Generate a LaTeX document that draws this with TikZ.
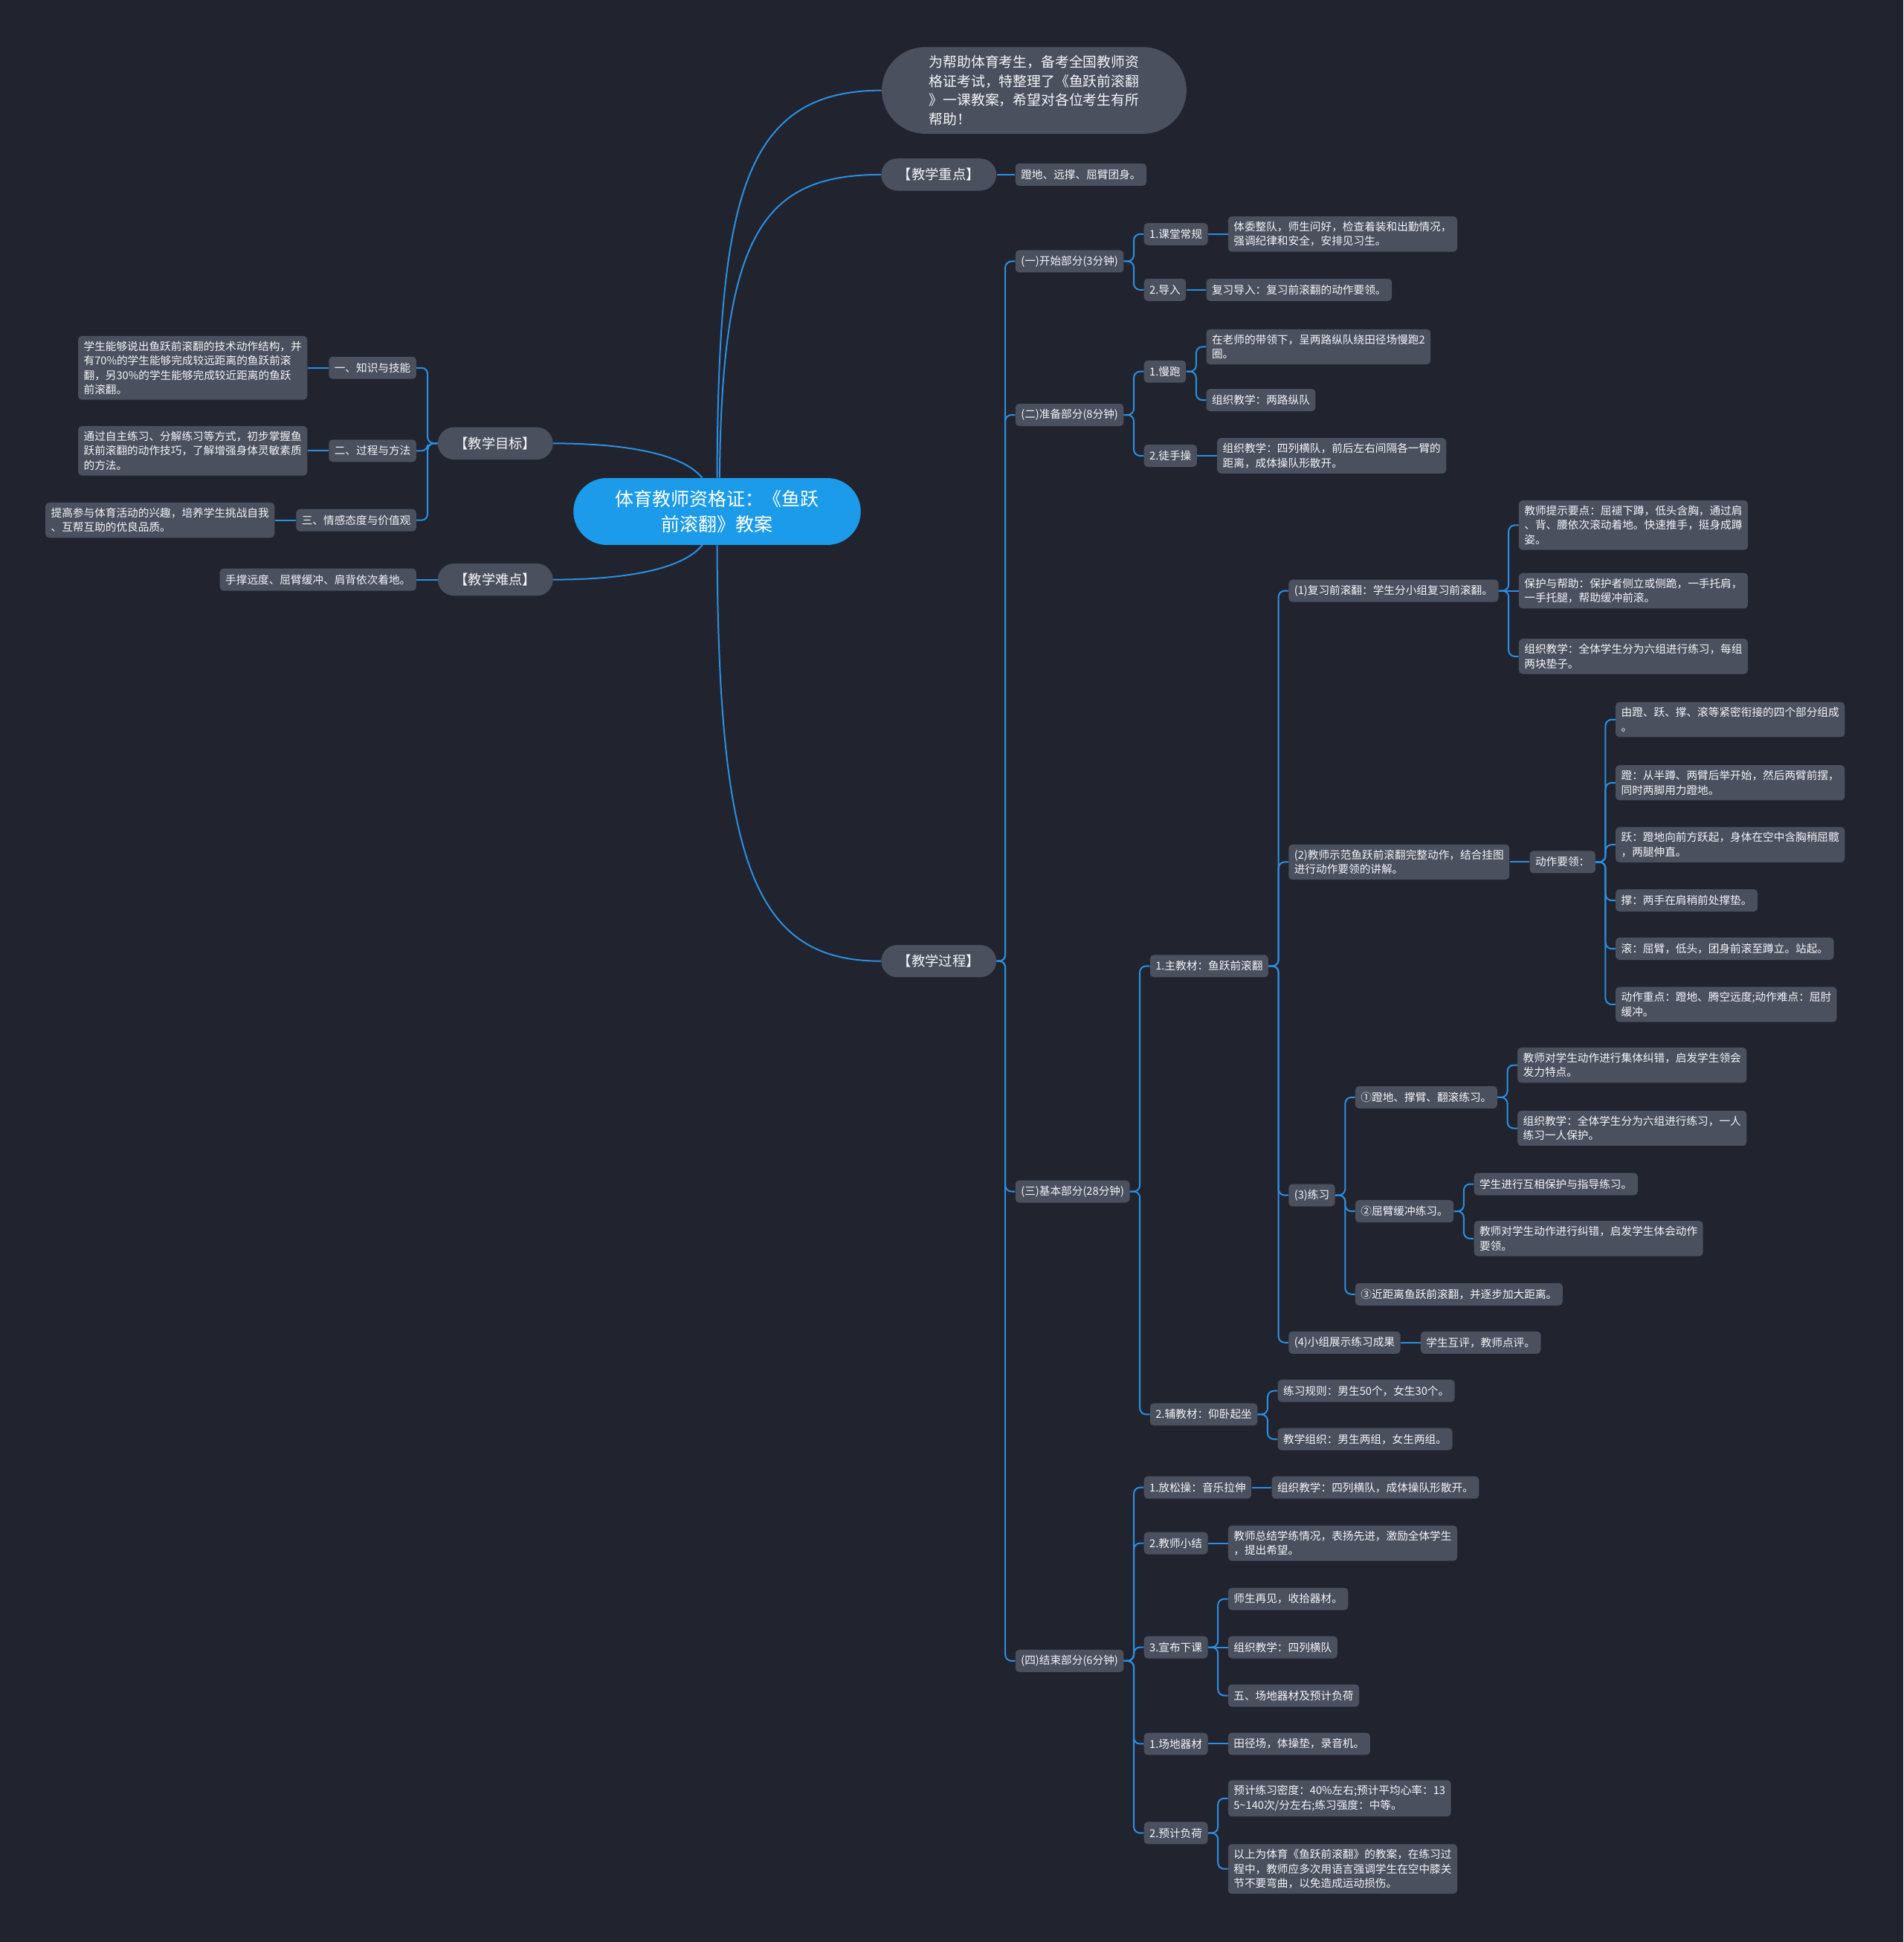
\documentclass[tikz,border=0pt]{standalone}
\usepackage{fontspec}
\setmainfont{Noto Sans CJK SC}
\usetikzlibrary{positioning,calc}
\definecolor{mapbg}{HTML}{21242F}
\definecolor{mapnode}{HTML}{4A505E}
\definecolor{maproot}{HTML}{1C9BEA}
\definecolor{mapline}{HTML}{2B8FE2}
\definecolor{maptext}{HTML}{F4F5F7}

\begin{document}
\begin{tikzpicture}[x=1pt,y=-1pt,
box/.style={fill=mapnode,text=maptext,align=left,rounded corners=3pt,
inner xsep=4.5pt,inner ysep=4.3pt,minimum height=18pt,
font=\fontsize{8.8}{11.6}\selectfont},
leaf/.style={box,anchor=west},
lleaf/.style={box,anchor=east},
topic/.style={fill=mapnode,text=maptext,rounded corners=13pt,inner sep=0pt,
minimum width=93pt,minimum height=26pt,font=\fontsize{11}{13}\selectfont},
rootbox/.style={fill=maproot,text=white,align=center,rounded corners=27pt,
inner sep=0pt,minimum width=232pt,minimum height=54pt,
font=\fontsize{15}{20}\selectfont},
introbox/.style={fill=mapnode,text=maptext,align=left,rounded corners=35pt,
inner sep=0pt,minimum width=246pt,minimum height=70pt,
font=\fontsize{11.3}{15.3}\selectfont},
link/.style={draw=mapline,line width=1.2pt,rounded corners=5pt}
]
\fill[mapbg] (0,0) rectangle (1537,1568);
\useasboundingbox (0,0) rectangle (1537,1568);

% center and main topics
\node[rootbox] (root) at (579,413) {体育教师资格证：《鱼跃\\前滚翻》教案};
\node[introbox] (intro) at (835,73) {为帮助体育考生，备考全国教师资\\格证考试，特整理了《鱼跃前滚翻\\》一课教案，希望对各位考生有所\\帮助！};
\node[topic] (keypt) at (758,141) {【教学重点】};
\node[topic] (proc) at (758,776) {【教学过程】};
\node[topic] (goal) at (400,358) {【教学目标】};
\node[topic] (hard) at (400,468) {【教学难点】};

\node[leaf] (keyptA) at ($(keypt.east)+(15,0)$) {蹬地、远撑、屈臂团身。};

% left side
\node[lleaf] (goal1) at ($(goal.west)+(-17,-61)$) {一、知识与技能};
\node[lleaf] (goal1a) at ($(goal1.west)+(-17,0)$) {学生能够说出鱼跃前滚翻的技术动作结构，并\\有70\%的学生能够完成较远距离的鱼跃前滚\\翻，另30\%的学生能够完成较近距离的鱼跃\\前滚翻。};
\node[lleaf] (goal2) at ($(goal.west)+(-17,6)$) {二、过程与方法};
\node[lleaf] (goal2a) at ($(goal2.west)+(-17,0)$) {通过自主练习、分解练习等方式，初步掌握鱼\\跃前滚翻的动作技巧，了解增强身体灵敏素质\\的方法。};
\node[lleaf] (goal3) at ($(goal.west)+(-17,62)$) {三、情感态度与价值观};
\node[lleaf] (goal3a) at ($(goal3.west)+(-17,0)$) {提高参与体育活动的兴趣，培养学生挑战自我\\、互帮互助的优良品质。};
\node[lleaf] (hardA) at ($(hard.west)+(-17,0)$) {手撑远度、屈臂缓冲、肩背依次着地。};

% lesson sections
\node[leaf] (sec1) at ($(proc.east)+(15,-565)$) {(一)开始部分(3分钟)};
\node[leaf] (sec2) at ($(proc.east)+(15,-441)$) {(二)准备部分(8分钟)};
\node[leaf] (sec3) at ($(proc.east)+(15,186)$) {(三)基本部分(28分钟)};
\node[leaf] (sec4) at ($(proc.east)+(15,565)$) {(四)结束部分(6分钟)};

% (一)
\node[leaf] (rout) at ($(sec1.east)+(16,-22)$) {1.课堂常规};
\node[leaf] (routA) at ($(rout.east)+(16,0)$) {体委整队，师生问好，检查着装和出勤情况，\\强调纪律和安全，安排见习生。};
\node[leaf] (lead) at ($(sec1.east)+(16,23)$) {2.导入};
\node[leaf] (leadA) at ($(lead.east)+(16,0)$) {复习导入：复习前滚翻的动作要领。};

% (二)
\node[leaf] (jog) at ($(sec2.east)+(16,-35)$) {1.慢跑};
\node[leaf] (jogA) at ($(jog.east)+(16,-20)$) {在老师的带领下，呈两路纵队绕田径场慢跑2\\圈。};
\node[leaf] (jogB) at ($(jog.east)+(16,23)$) {组织教学：两路纵队};
\node[leaf] (cal) at ($(sec2.east)+(16,33)$) {2.徒手操};
\node[leaf] (calA) at ($(cal.east)+(16,0)$) {组织教学：四列横队，前后左右间隔各一臂的\\距离，成体操队形散开。};

% (三)
\node[leaf] (mainT) at ($(sec3.east)+(16,-182)$) {1.主教材：鱼跃前滚翻};
\node[leaf] (rev) at ($(mainT.east)+(16,-303)$) {(1)复习前滚翻：学生分小组复习前滚翻。};
\node[leaf] (revA) at ($(rev.east)+(16,-53)$) {教师提示要点：屈褪下蹲，低头含胸，通过肩\\、背、腰依次滚动着地。快速推手，挺身成蹲\\姿。};
\node[leaf] (revB) at ($(rev.east)+(16,0)$) {保护与帮助：保护者侧立或侧跪，一手托肩，\\一手托腿，帮助缓冲前滚。};
\node[leaf] (revC) at ($(rev.east)+(16,53)$) {组织教学：全体学生分为六组进行练习，每组\\两块垫子。};
\node[leaf] (demo) at ($(mainT.east)+(16,-84)$) {(2)教师示范鱼跃前滚翻完整动作，结合挂图\\进行动作要领的讲解。};
\node[leaf] (key) at ($(demo.east)+(16,0)$) {动作要领：};
\node[leaf] (keyA) at ($(key.east)+(16,-115)$) {由蹬、跃、撑、滚等紧密衔接的四个部分组成\\。};
\node[leaf] (keyB) at ($(key.east)+(16,-64)$) {蹬：从半蹲、两臂后举开始，然后两臂前摆，\\同时两脚用力蹬地。};
\node[leaf] (keyC) at ($(key.east)+(16,-14)$) {跃：蹬地向前方跃起，身体在空中含胸稍屈髋\\，两腿伸直。};
\node[leaf] (keyD) at ($(key.east)+(16,31)$) {撑：两手在肩稍前处撑垫。};
\node[leaf] (keyE) at ($(key.east)+(16,70)$) {滚：屈臂，低头，团身前滚至蹲立。站起。};
\node[leaf] (keyF) at ($(key.east)+(16,115)$) {动作重点：蹬地、腾空远度;动作难点：屈肘\\缓冲。};
\node[leaf] (prac) at ($(mainT.east)+(16,185)$) {(3)练习};
\node[leaf] (drA) at ($(prac.east)+(16,-79)$) {①蹬地、撑臂、翻滚练习。};
\node[leaf] (drA1) at ($(drA.east)+(16,-26)$) {教师对学生动作进行集体纠错，启发学生领会\\发力特点。};
\node[leaf] (drA2) at ($(drA.east)+(16,25)$) {组织教学：全体学生分为六组进行练习，一人\\练习一人保护。};
\node[leaf] (drB) at ($(prac.east)+(16,13)$) {②屈臂缓冲练习。};
\node[leaf] (drB1) at ($(drB.east)+(16,-22)$) {学生进行互相保护与指导练习。};
\node[leaf] (drB2) at ($(drB.east)+(16,22)$) {教师对学生动作进行纠错，启发学生体会动作\\要领。};
\node[leaf] (drC) at ($(prac.east)+(16,80)$) {③近距离鱼跃前滚翻，并逐步加大距离。};
\node[leaf] (show) at ($(mainT.east)+(16,304)$) {(4)小组展示练习成果};
\node[leaf] (showA) at ($(show.east)+(16,0)$) {学生互评，教师点评。};
\node[leaf] (subT) at ($(sec3.east)+(16,180)$) {2.辅教材：仰卧起坐};
\node[leaf] (subA) at ($(subT.east)+(16,-19)$) {练习规则：男生50个，女生30个。};
\node[leaf] (subB) at ($(subT.east)+(16,20)$) {教学组织：男生两组，女生两组。};

% (四)
\node[leaf] (relax) at ($(sec4.east)+(16,-140)$) {1.放松操：音乐拉伸};
\node[leaf] (relaxA) at ($(relax.east)+(16,0)$) {组织教学：四列横队，成体操队形散开。};
\node[leaf] (sum) at ($(sec4.east)+(16,-95)$) {2.教师小结};
\node[leaf] (sumA) at ($(sum.east)+(16,0)$) {教师总结学练情况，表扬先进，激励全体学生\\，提出希望。};
\node[leaf] (dismiss) at ($(sec4.east)+(16,-11)$) {3.宣布下课};
\node[leaf] (disA) at ($(dismiss.east)+(16,-39)$) {师生再见，收拾器材。};
\node[leaf] (disB) at ($(dismiss.east)+(16,0)$) {组织教学：四列横队};
\node[leaf] (disC) at ($(dismiss.east)+(16,39)$) {五、场地器材及预计负荷};
\node[leaf] (equip) at ($(sec4.east)+(16,67)$) {1.场地器材};
\node[leaf] (equipA) at ($(equip.east)+(16,0)$) {田径场，体操垫，录音机。};
\node[leaf] (load) at ($(sec4.east)+(16,139)$) {2.预计负荷};
\node[leaf] (loadA) at ($(load.east)+(16,-28)$) {预计练习密度：40\%左右;预计平均心率：13\\5\textasciitilde 140次/分左右;练习强度：中等。};
\node[leaf] (loadB) at ($(load.east)+(16,29)$) {以上为体育《鱼跃前滚翻》的教案，在练习过\\程中，教师应多次用语言强调学生在空中膝关\\节不要弯曲，以免造成运动损伤。};

% center links
\draw[link] (root.north) .. controls (580,160) and (600,73) .. (intro.west);
\draw[link] ([xshift=2pt]root.north) .. controls (583,190) and (615,141) .. (keypt.west);
\draw[link] (root.south) .. controls (580,700) and (610,776) .. (proc.west);
\draw[link] ([xshift=-12pt]root.north) .. controls (550,365) and (500,358) .. (goal.east);
\draw[link] ([xshift=-12pt]root.south) .. controls (550,461) and (500,468) .. (hard.east);
\draw[link] (keypt) -- (keyptA);

% left links
\draw[link] (goal.west) -- ++(-8,0) |- (goal1.east);
\draw[link] (goal.west) -- ++(-8,0) |- (goal2.east);
\draw[link] (goal.west) -- ++(-8,0) |- (goal3.east);
\draw[link] (goal1) -- (goal1a);
\draw[link] (goal2) -- (goal2a);
\draw[link] (goal3) -- (goal3a);
\draw[link] (hard) -- (hardA);

% lesson links
\draw[link] (proc.east) -- ++(7,0) |- (sec1.west);
\draw[link] (proc.east) -- ++(7,0) |- (sec2.west);
\draw[link] (proc.east) -- ++(7,0) |- (sec3.west);
\draw[link] (proc.east) -- ++(7,0) |- (sec4.west);

\draw[link] (sec1.east) -- ++(8,0) |- (rout.west);
\draw[link] (sec1.east) -- ++(8,0) |- (lead.west);
\draw[link] (rout) -- (routA);
\draw[link] (lead) -- (leadA);

\draw[link] (sec2.east) -- ++(8,0) |- (jog.west);
\draw[link] (sec2.east) -- ++(8,0) |- (cal.west);
\draw[link] (jog.east) -- ++(8,0) |- (jogA.west);
\draw[link] (jog.east) -- ++(8,0) |- (jogB.west);
\draw[link] (cal) -- (calA);

\draw[link] (sec3.east) -- ++(8,0) |- (mainT.west);
\draw[link] (sec3.east) -- ++(8,0) |- (subT.west);
\draw[link] (mainT.east) -- ++(8,0) |- (rev.west);
\draw[link] (mainT.east) -- ++(8,0) |- (demo.west);
\draw[link] (mainT.east) -- ++(8,0) |- (prac.west);
\draw[link] (mainT.east) -- ++(8,0) |- (show.west);
\draw[link] (rev.east) -- ++(8,0) |- (revA.west);
\draw[link] (rev) -- (revB);
\draw[link] (rev.east) -- ++(8,0) |- (revC.west);
\draw[link] (demo) -- (key);
\draw[link] (key.east) -- ++(8,0) |- (keyA.west);
\draw[link] (key.east) -- ++(8,0) |- (keyB.west);
\draw[link] (key.east) -- ++(8,0) |- (keyC.west);
\draw[link] (key.east) -- ++(8,0) |- (keyD.west);
\draw[link] (key.east) -- ++(8,0) |- (keyE.west);
\draw[link] (key.east) -- ++(8,0) |- (keyF.west);
\draw[link] (prac.east) -- ++(8,0) |- (drA.west);
\draw[link] (prac.east) -- ++(8,0) |- (drB.west);
\draw[link] (prac.east) -- ++(8,0) |- (drC.west);
\draw[link] (drA.east) -- ++(8,0) |- (drA1.west);
\draw[link] (drA.east) -- ++(8,0) |- (drA2.west);
\draw[link] (drB.east) -- ++(8,0) |- (drB1.west);
\draw[link] (drB.east) -- ++(8,0) |- (drB2.west);
\draw[link] (show) -- (showA);
\draw[link] (subT.east) -- ++(8,0) |- (subA.west);
\draw[link] (subT.east) -- ++(8,0) |- (subB.west);

\draw[link] (sec4.east) -- ++(8,0) |- (relax.west);
\draw[link] (sec4.east) -- ++(8,0) |- (sum.west);
\draw[link] (sec4.east) -- ++(8,0) |- (dismiss.west);
\draw[link] (sec4.east) -- ++(8,0) |- (equip.west);
\draw[link] (sec4.east) -- ++(8,0) |- (load.west);
\draw[link] (relax) -- (relaxA);
\draw[link] (sum) -- (sumA);
\draw[link] (dismiss.east) -- ++(8,0) |- (disA.west);
\draw[link] (dismiss) -- (disB);
\draw[link] (dismiss.east) -- ++(8,0) |- (disC.west);
\draw[link] (equip) -- (equipA);
\draw[link] (load.east) -- ++(8,0) |- (loadA.west);
\draw[link] (load.east) -- ++(8,0) |- (loadB.west);
\end{tikzpicture}
\end{document}
